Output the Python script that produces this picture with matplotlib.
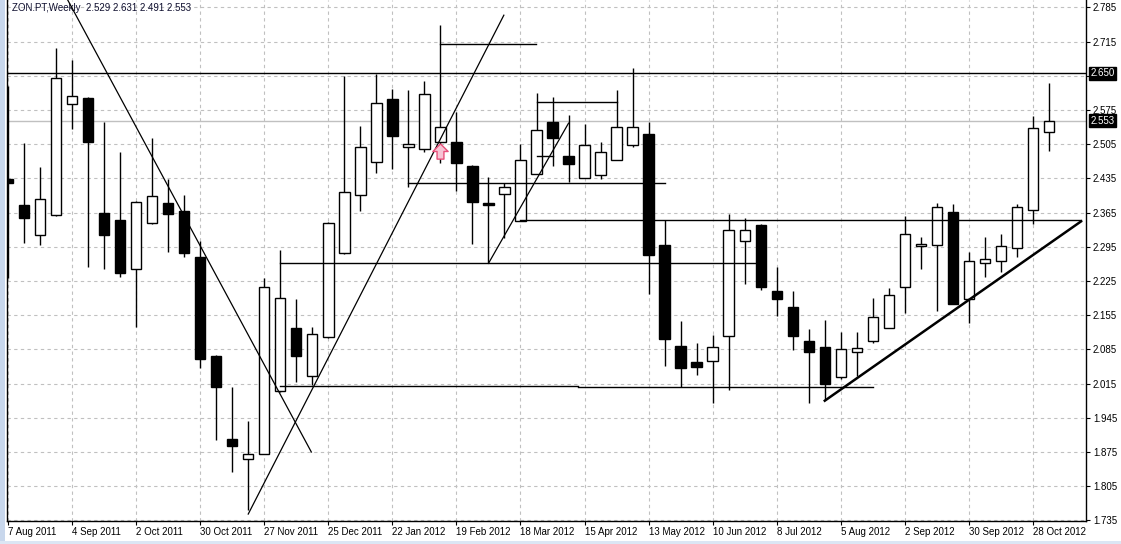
import matplotlib.pyplot as plt
from matplotlib.patches import Rectangle
from matplotlib.path import Path

plt.rcParams['font.family'] = ['Liberation Sans', 'DejaVu Sans']

# weekly candles ZON.PT, first week 7 Aug 2011
opens = [2.434, 2.381, 2.319, 2.360, 2.587, 2.600, 2.364, 2.350, 2.250, 2.344,
         2.385, 2.368, 2.274, 2.072, 1.902, 1.861, 1.871, 2.000, 2.129, 2.031,
         2.110, 2.282, 2.401, 2.469, 2.598, 2.499, 2.495, 2.510, 2.510, 2.460,
         2.385, 2.403, 2.348, 2.444, 2.550, 2.481, 2.436, 2.442, 2.473, 2.503,
         2.526, 2.299, 2.092, 2.059, 2.061, 2.112, 2.307, 2.340, 2.205, 2.172,
         2.102, 2.090, 2.029, 2.080, 2.102, 2.129, 2.213, 2.297, 2.299, 2.366,
         2.188, 2.262, 2.266, 2.293, 2.370, 2.529]
highs = [2.624, 2.507, 2.458, 2.702, 2.677, 2.601, 2.550, 2.489, 2.388, 2.518,
         2.434, 2.401, 2.307, 2.074, 2.008, 1.938, 2.231, 2.288, 2.188, 2.131,
         2.346, 2.645, 2.542, 2.649, 2.618, 2.616, 2.634, 2.749, 2.571, 2.462,
         2.438, 2.426, 2.505, 2.610, 2.602, 2.565, 2.546, 2.510, 2.616, 2.661,
         2.550, 2.350, 2.143, 2.098, 2.115, 2.362, 2.354, 2.342, 2.254, 2.205,
         2.127, 2.145, 2.121, 2.121, 2.190, 2.211, 2.358, 2.315, 2.385, 2.383,
         2.284, 2.315, 2.321, 2.383, 2.563, 2.631]
lows = [2.231, 2.303, 2.299, 2.358, 2.536, 2.254, 2.250, 2.233, 2.131, 2.342,
        2.284, 2.274, 2.047, 1.900, 1.834, 1.757, 1.870, 1.998, 2.018, 2.012,
        2.109, 2.281, 2.368, 2.446, 2.454, 2.417, 2.489, 2.467, 2.409, 2.301,
        2.262, 2.313, 2.347, 2.443, 2.460, 2.428, 2.435, 2.434, 2.472, 2.499,
        2.198, 2.051, 2.008, 2.033, 1.975, 2.002, 2.219, 2.207, 2.153, 2.084,
        1.975, 1.981, 2.024, 2.031, 2.098, 2.128, 2.160, 2.250, 2.164, 2.177,
        2.139, 2.233, 2.243, 2.274, 2.342, 2.491]
closes = [2.426, 2.354, 2.393, 2.640, 2.604, 2.510, 2.319, 2.241, 2.387, 2.399,
          2.362, 2.282, 2.065, 2.008, 1.887, 1.871, 2.213, 2.190, 2.072, 2.117,
          2.344, 2.407, 2.499, 2.589, 2.522, 2.505, 2.608, 2.540, 2.467, 2.387,
          2.381, 2.417, 2.473, 2.534, 2.518, 2.464, 2.503, 2.489, 2.540, 2.540,
          2.278, 2.106, 2.047, 2.049, 2.090, 2.329, 2.329, 2.213, 2.188, 2.112,
          2.080, 2.014, 2.086, 2.088, 2.151, 2.196, 2.321, 2.301, 2.376, 2.178,
          2.266, 2.270, 2.297, 2.376, 2.538, 2.553]

date_labels = ['7 Aug 2011', '4 Sep 2011', '2 Oct 2011', '30 Oct 2011', '27 Nov 2011',
               '25 Dec 2011', '22 Jan 2012', '19 Feb 2012', '18 Mar 2012', '15 Apr 2012',
               '13 May 2012', '10 Jun 2012', '8 Jul 2012', '5 Aug 2012', '2 Sep 2012',
               '30 Sep 2012', '28 Oct 2012']
price_ticks = [1.735, 1.805, 1.875, 1.945, 2.015, 2.085, 2.155, 2.225, 2.295,
               2.365, 2.435, 2.505, 2.575, 2.645, 2.715, 2.785]

# drawn objects: (x0, y0, x1, y1) in bar index / price
trend_lines = [(3.73, 2.800, 18.94, 1.875),
               (15.0, 1.748, 30.96, 2.769),
               (30.0, 2.261, 35.0, 2.548)]
support_line = (51.0, 1.980, 67.0, 2.347)
h_lines = [(27, 32.94, 2.711), (25, 41, 2.425), (17, 46.7, 2.261),
           (17, 35.56, 2.010), (35.56, 54.0, 2.008), (32, 67, 2.349),
           (33, 38, 2.591), (33, 34, 2.481)]
resistance = 2.650
bid = 2.553
arrow_bar, arrow_price = 27, 2.492

W, H = 1121, 544
fig = plt.figure(figsize=(W / 100, H / 100), dpi=100)
ax = fig.add_axes([7 / W, (H - 521) / H, (1086 - 7) / W, 521 / H])

x = list(range(len(opens)))
ax.vlines(x, lows, highs, color='black', lw=1.0, zorder=2)
for i in x:
    o, c = opens[i], closes[i]
    fc = 'white' if c >= o else 'black'
    ax.bar(i, max(abs(c - o), 0.0015), bottom=min(o, c), width=0.65,
           color=fc, edgecolor='black', lw=1.0, zorder=3)

for x0, y0, x1, y1 in trend_lines:
    ax.plot([x0, x1], [y0, y1], color='black', lw=0.9, zorder=4)
ax.plot(support_line[::2], support_line[1::2], color='black', lw=1.8, zorder=4)
for x0, x1, y in h_lines:
    ax.plot([x0, x1], [y, y], color='black', lw=1.0, zorder=4)
ax.axhline(resistance, color='black', lw=1.0, zorder=4)
ax.axhline(bid, color='#c0c0c0', lw=1.0, zorder=1)

# MT4 style up arrow
up_arrow = Path([(0, 1), (1, 0), (0.45, 0), (0.45, -1), (-0.45, -1), (-0.45, 0), (-1, 0), (0, 1)])
ax.plot([arrow_bar], [arrow_price], marker=up_arrow, markersize=11,
        mfc='#f6c4d4', mec='#e8507a', mew=1.0, ls='none', zorder=6)

ax.set_xlim(-1 / 16, 67.31)
ax.set_ylim(1.7338, 2.8001)

ax.set_xticks(range(0, 65, 4))
ax.set_xticklabels(date_labels, ha='left', fontsize=7)
ax.set_yticks(price_ticks)
# 2.645 sits under the 2.650 price box, as in the terminal
ax.set_yticklabels(['' if p == 2.645 else '%.3f' % p for p in price_ticks], fontsize=7)
ax.yaxis.tick_right()
ax.tick_params(axis='y', length=3, pad=2, width=0.8)
ax.tick_params(axis='x', length=3, pad=1, width=0.8)
ax.grid(True, color='#c0c0c0', lw=0.8, linestyle=(0, (3, 3)), zorder=0)
ax.set_axisbelow(True)
ax.spines['top'].set_visible(False)
for s in ['left', 'right', 'bottom']:
    ax.spines[s].set_linewidth(1.0)

for val in [resistance, bid]:
    ax.annotate('%.3f' % val, xy=(1.0, val), xycoords=('axes fraction', 'data'),
                xytext=(3, 0), textcoords='offset points', va='center', ha='left',
                fontsize=7, color='white',
                bbox=dict(boxstyle='square,pad=0.15', fc='black', ec='black'))

ax.text(5 / 1079, 1 - 8 / 521, 'ZON.PT,Weekly  2.529 2.631 2.491 2.553',
        transform=ax.transAxes, fontsize=7, color='#101030', va='center')

# window frame
fig.patches.append(Rectangle((0, 0), 5 / W, 1, transform=fig.transFigure,
                             fc='#c8d7ec', ec='none'))
fig.patches.append(Rectangle((0, 0), 1, 3 / H, transform=fig.transFigure,
                             fc='#dce6f4', ec='none'))

fig.savefig('out.png', dpi=100)
